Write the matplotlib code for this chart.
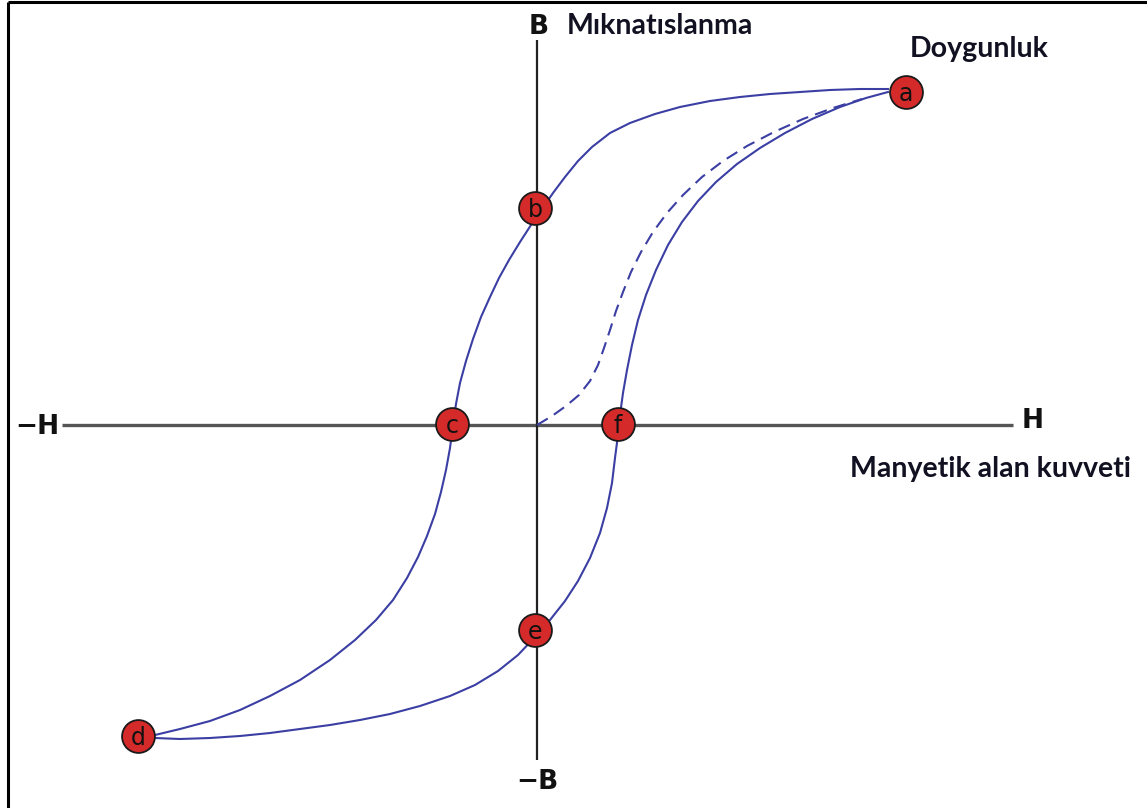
import matplotlib
matplotlib.use("Agg")
import matplotlib.pyplot as plt

# Coordinates: H = horizontal (field strength), B = vertical (magnetisation), origin at axes cross
# Upper (descending) branch: a -> b -> c -> d
upper_H = [351, 323, 293, 263, 233, 203, 173, 143, 118, 93, 73, 55, 41, 28, 16, 5, -6, -17,
           -28, -38, -47, -56, -64, -71, -77, -81, -84, -87, -91, -96, -102, -110, -119,
           -130, -144, -161, -182, -207, -237, -267, -297, -327, -357, -382]
upper_B = [336, 336, 335, 333, 331, 328, 324, 318, 311, 302, 292, 278, 264, 248, 232, 216,
           200, 183, 165, 147, 128, 108, 86, 64, 42, 21, 0, -23, -45, -67, -89, -111, -132,
           -153, -175, -195, -215, -235, -255, -271, -285, -296, -304, -310]
# Lower (ascending) branch: d -> e -> f -> a
lower_H = [-382, -357, -327, -297, -267, -237, -207, -177, -147, -117, -87, -62, -39, -19,
           -2, 13, 28, 41, 53, 63, 70, 75, 78, 81, 83, 86, 90, 95, 101, 109, 119, 131, 145,
           161, 179, 200, 223, 248, 275, 303, 329, 351]
lower_B = [-313, -314, -313, -311, -308, -304, -300, -295, -289, -281, -271, -260, -246,
           -230, -212, -195, -176, -156, -133, -108, -83, -58, -33, -10, 10, 32, 55, 80,
           105, 130, 155, 180, 203, 224, 243, 261, 277, 292, 306, 318, 327, 333]
# Initial magnetisation curve (dashed)
init_H = [0, 15, 29, 42, 53, 61, 67, 73, 79, 86, 94, 104, 116, 130, 146, 165, 186, 210,
          237, 266, 296, 325]
init_B = [0, 9, 19, 30, 44, 60, 77, 95, 114, 133, 153, 173, 193, 212, 230, 248, 264, 279,
          293, 306, 317, 326]

# Labelled points
point_labels = ["a", "b", "c", "d", "e", "f"]
point_H = [369, -2, -85, -399, -2, 81]
point_B = [333, 217, 1, -311, -205, 1]

fig = plt.figure(figsize=(11.47, 8.08), dpi=100)
ax = fig.add_axes([0, 0, 1, 1])
ax.set_xlim(-537, 610)
ax.set_ylim(-383, 425)
ax.axis("off")

# frame (top and left edges)
ax.plot([-529.5, 610], [423, 423], color="black", lw=2.2, clip_on=False, solid_capstyle="butt")
ax.plot([-529.5, -529.5], [-383, 423], color="black", lw=2.2, clip_on=False, solid_capstyle="butt")

# axes
ax.plot([-475, 476], [0, 0], color="#555555", lw=2.4, solid_capstyle="butt", zorder=1)
ax.plot([0, 0], [-335, 385], color="#222222", lw=1.6, solid_capstyle="butt", zorder=1)

curve_color = "#3b3fa3"
ax.plot(upper_H, upper_B, color=curve_color, lw=1.5, zorder=2, solid_joinstyle="round")
ax.plot(lower_H, lower_B, color=curve_color, lw=1.5, zorder=2, solid_joinstyle="round")
ax.plot(init_H, init_B, color=curve_color, lw=1.5, ls=(0, (6, 3.5)), zorder=2)

ax.scatter(point_H, point_B, s=560, color="#d42a2a", edgecolors="#1a1a1a", linewidths=1.3, zorder=3)
for lab, h, b in zip(point_labels, point_H, point_B):
    ax.text(h, b - 2, lab, ha="center", va="center", fontsize=17, family="DejaVu Sans",
            color="#111111", zorder=4)

bold_kw = dict(family="DejaVu Sans", fontweight="bold", color="#111111")
ax.text(2, 398, "B", ha="center", va="center", fontsize=19, **bold_kw)
ax.text(0, -357, "\u2212B", ha="center", va="center", fontsize=19, **bold_kw)
ax.text(496, 4, "H", ha="center", va="center", fontsize=19, **bold_kw)
ax.text(-500, -2, "\u2212H", ha="center", va="center", fontsize=19, **bold_kw)

lab_kw = dict(family="Lato", fontweight="bold", color="#111122", fontsize=20.5)
ax.text(30, 399, "Mıknatıslanma", ha="left", va="center", **lab_kw)
ax.text(373, 376, "Doygunluk", ha="left", va="center", **lab_kw)
ax.text(313, -44, "Manyetik alan kuvveti", ha="left", va="center", **lab_kw)

fig.savefig("out.png", dpi=100)
